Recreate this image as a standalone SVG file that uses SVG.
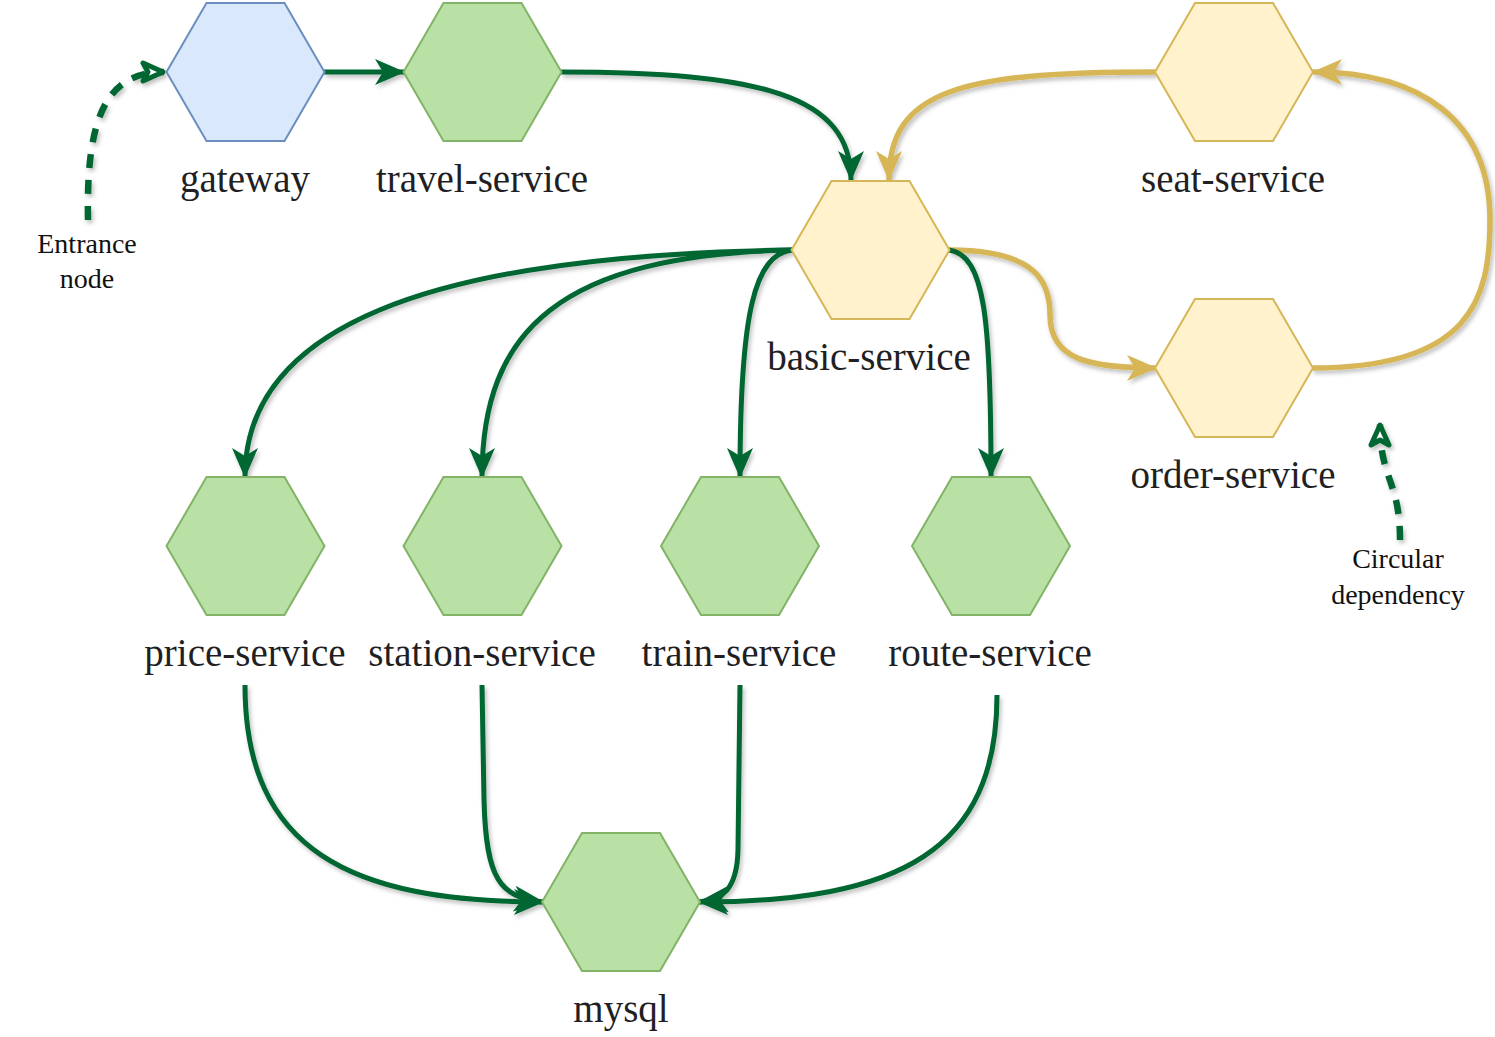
<svg xmlns="http://www.w3.org/2000/svg" xmlns:xlink="http://www.w3.org/1999/xlink" width="1495" height="1037" viewBox="0 0 1495 1037">
<style>
.lbl{font-family:"Liberation Serif","Times New Roman",serif;font-size:39px;fill:#1f1f24;text-anchor:middle}
.note{font-family:"Liberation Serif","Times New Roman",serif;font-size:28px;fill:#111;text-anchor:middle}
.blue{fill:#dae8fc;stroke:#6c8ebf;stroke-width:2}
.green{fill:#b9e0a5;stroke:#82b366;stroke-width:2}
.yellow{fill:#fff2cc;stroke:#d6b656;stroke-width:2}
.g{fill:none;stroke:#006633;stroke-width:5;marker-end:url(#ag)}
.y{fill:none;stroke:#d6b656;stroke-width:5.5;marker-end:url(#ay)}
.d{fill:none;stroke:#006633;stroke-width:6.5;stroke-dasharray:14 12;marker-end:url(#ad)}
</style>
<defs>
<polygon id="hex" points="-79,0 -39,-69 39,-69 79,0 39,69 -39,69"/>
<marker id="ag" viewBox="0 0 30 26" refX="29" refY="13" markerWidth="30" markerHeight="26" markerUnits="userSpaceOnUse" orient="auto">
<path d="M0,0 L30,13 L0,26 L8,13 Z" fill="#006633"/>
</marker>
<marker id="ay" viewBox="0 0 30 26" refX="29" refY="13" markerWidth="30" markerHeight="26" markerUnits="userSpaceOnUse" orient="auto">
<path d="M0,0 L30,13 L0,26 L8,13 Z" fill="#d6b656"/>
</marker>
<marker id="ad" viewBox="0 0 26 24" refX="24" refY="12" markerWidth="26" markerHeight="24" markerUnits="userSpaceOnUse" orient="auto">
<path d="M3,3 L23,12 L3,21 L8,12 Z" fill="#ffffff" stroke="#006633" stroke-width="5" stroke-linejoin="round"/>
</marker>
<filter id="sh" x="-20%" y="-20%" width="140%" height="140%">
<feDropShadow dx="2" dy="3" stdDeviation="2" flood-color="#000" flood-opacity="0.25"/>
</filter>
</defs>
<g id="connectors" filter="url(#sh)">
<path class="g" d="M324,72 L404,72"/>
<path class="g" d="M561,72 C760,72 851,95 851,180"/>
<path class="y" d="M1156,72 C960,72 889,90 889,180"/>
<path class="y" d="M1312,368 C1470,368 1490,300 1490,220 C1490,120 1420,72 1313,72"/>
<path class="y" d="M949,250 C1040,250 1050,285 1050,315 C1050,360 1090,368 1156,368"/>
<path class="g" d="M792,250 C420,255 245,330 245,477"/>
<path class="g" d="M792,250 C560,255 482,330 482,477"/>
<path class="g" d="M792,250 C755,255 740,310 740,477"/>
<path class="g" d="M949,250 C985,255 991,320 991,477"/>
<path class="g" d="M245,685 C245,850 350,902 543,902"/>
<path class="g" d="M482,685 L484,800 C486,880 500,897 543,902"/>
<path class="g" d="M740,685 L738,850 C737,890 722,900 699,902"/>
<path class="g" d="M997,695 C997,850 900,902 699,902"/>
<path class="d" d="M88,220 C86,120 105,72 164,72"/>
<path class="d" d="M1400,540 C1400,480 1380,480 1380,424"/>
</g>
<g id="gateway"><use href="#hex" x="245.5" y="72" class="blue"/><text class="lbl" x="245" y="192">gateway</text></g>
<g id="travel-service"><use href="#hex" x="482.5" y="72" class="green"/><text class="lbl" x="482" y="192">travel-service</text></g>
<g id="seat-service"><use href="#hex" x="1234" y="72" class="yellow"/><text class="lbl" x="1233" y="192">seat-service</text></g>
<g id="basic-service"><use href="#hex" x="870.5" y="250" class="yellow"/><text class="lbl" x="869" y="370">basic-service</text></g>
<g id="order-service"><use href="#hex" x="1234" y="368" class="yellow"/><text class="lbl" x="1233" y="488">order-service</text></g>
<g id="price-service"><use href="#hex" x="245.5" y="546" class="green"/><text class="lbl" x="245" y="666">price-service</text></g>
<g id="station-service"><use href="#hex" x="482.5" y="546" class="green"/><text class="lbl" x="482" y="666">station-service</text></g>
<g id="train-service"><use href="#hex" x="740" y="546" class="green"/><text class="lbl" x="739" y="666">train-service</text></g>
<g id="route-service"><use href="#hex" x="991" y="546" class="green"/><text class="lbl" x="990" y="666">route-service</text></g>
<g id="mysql"><use href="#hex" x="621" y="902" class="green"/><text class="lbl" x="621" y="1022">mysql</text></g>
<g id="entrance-note"><text class="note" x="87" y="253">Entrance</text><text class="note" x="87" y="288">node</text></g>
<g id="circular-note"><text class="note" x="1398" y="568">Circular</text><text class="note" x="1398" y="604">dependency</text></g>
</svg>
